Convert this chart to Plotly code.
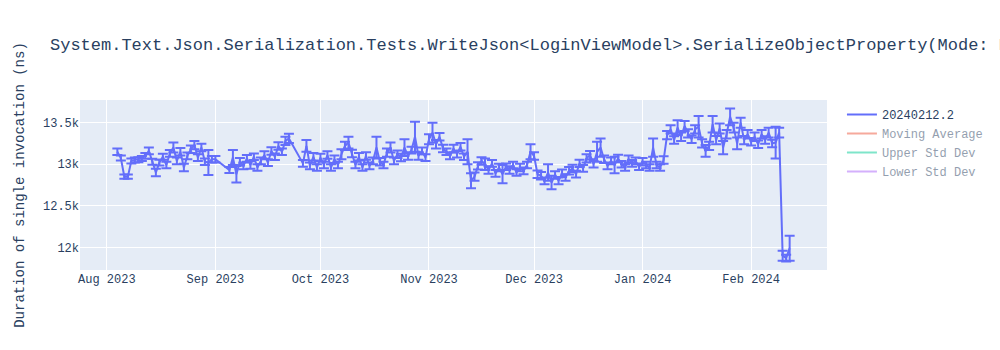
import plotly.graph_objects as go

dates = [
    "2023-08-04", "2023-08-05", "2023-08-06", "2023-08-07", "2023-08-08", "2023-08-09", "2023-08-10",
    "2023-08-11", "2023-08-12", "2023-08-13", "2023-08-14", "2023-08-15", "2023-08-16", "2023-08-17",
    "2023-08-18", "2023-08-19", "2023-08-20", "2023-08-21", "2023-08-22", "2023-08-23", "2023-08-24",
    "2023-08-25", "2023-08-26", "2023-08-27", "2023-08-28", "2023-08-29", "2023-08-30", "2023-08-31",
    "2023-09-01", "2023-09-05", "2023-09-06", "2023-09-07", "2023-09-08", "2023-09-09", "2023-09-10",
    "2023-09-11", "2023-09-12", "2023-09-13", "2023-09-14", "2023-09-15", "2023-09-16", "2023-09-17",
    "2023-09-18", "2023-09-19", "2023-09-20", "2023-09-21", "2023-09-22", "2023-09-26", "2023-09-27",
    "2023-09-28", "2023-09-29", "2023-09-30", "2023-10-01", "2023-10-02", "2023-10-03", "2023-10-04",
    "2023-10-05", "2023-10-06", "2023-10-07", "2023-10-08", "2023-10-09", "2023-10-10", "2023-10-11",
    "2023-10-12", "2023-10-13", "2023-10-14", "2023-10-15", "2023-10-16", "2023-10-17", "2023-10-18",
    "2023-10-19", "2023-10-20", "2023-10-21", "2023-10-22", "2023-10-23", "2023-10-24", "2023-10-25",
    "2023-10-26", "2023-10-27", "2023-10-28", "2023-10-29", "2023-10-30", "2023-10-31", "2023-11-01",
    "2023-11-02", "2023-11-03", "2023-11-04", "2023-11-05", "2023-11-06", "2023-11-07", "2023-11-08",
    "2023-11-09", "2023-11-10", "2023-11-11", "2023-11-12", "2023-11-13", "2023-11-14", "2023-11-15",
    "2023-11-16", "2023-11-17", "2023-11-18", "2023-11-19", "2023-11-20", "2023-11-21", "2023-11-22",
    "2023-11-23", "2023-11-24", "2023-11-25", "2023-11-26", "2023-11-27", "2023-11-28", "2023-11-29",
    "2023-11-30", "2023-12-01", "2023-12-02", "2023-12-03", "2023-12-04", "2023-12-05", "2023-12-06",
    "2023-12-07", "2023-12-08", "2023-12-09", "2023-12-10", "2023-12-11", "2023-12-12", "2023-12-13",
    "2023-12-14", "2023-12-15", "2023-12-16", "2023-12-17", "2023-12-18", "2023-12-19", "2023-12-20",
    "2023-12-21", "2023-12-22", "2023-12-23", "2023-12-24", "2023-12-25", "2023-12-26", "2023-12-27",
    "2023-12-28", "2023-12-29", "2023-12-30", "2023-12-31", "2024-01-01", "2024-01-02", "2024-01-03",
    "2024-01-04", "2024-01-05", "2024-01-06", "2024-01-07", "2024-01-08", "2024-01-09", "2024-01-10",
    "2024-01-11", "2024-01-12", "2024-01-13", "2024-01-14", "2024-01-15", "2024-01-16", "2024-01-17",
    "2024-01-18", "2024-01-19", "2024-01-20", "2024-01-21", "2024-01-22", "2024-01-23", "2024-01-24",
    "2024-01-25", "2024-01-26", "2024-01-27", "2024-01-28", "2024-01-29", "2024-01-30", "2024-01-31",
    "2024-02-01", "2024-02-02", "2024-02-03", "2024-02-04", "2024-02-05", "2024-02-06", "2024-02-07",
    "2024-02-08", "2024-02-09", "2024-02-10", "2024-02-11", "2024-02-12",
]

durations = [
    13150, 13075, 12850, 12850, 13040, 13050, 13055,
    13070, 13100, 13160, 13030, 12900, 13020, 13090,
    12990, 13130, 13200, 13040, 13150, 12960, 13100,
    13180, 13230, 13080, 13200, 13030, 13020, 13060,
    13060, 12930, 13080, 12880, 13030, 12980, 13070,
    12990, 13090, 12960, 13040, 13110, 13020, 13160,
    13090, 13220, 13150, 13280, 13310, 13010, 13220,
    12980, 13090, 12960, 13080, 12990, 13110, 12960,
    13060, 12990, 13120, 13220, 13260, 13130, 12990,
    13090, 12960, 13100, 12980, 13040, 13200, 13030,
    12990, 13140, 13200, 13040, 13120, 13080, 13200,
    13100, 13170, 13330, 13100, 13160, 13080, 13300,
    13380, 13240, 13330, 13190, 13150, 13100, 13190,
    13120, 13210, 13090, 13150, 12800, 12850, 12980,
    13040, 13000, 12930, 13010, 12890, 12960, 12880,
    12970, 12930, 12990, 12900, 12960, 12920, 12990,
    13150, 13100, 12880, 12860, 12800, 12900, 12780,
    12870, 12800, 12890, 12840, 12920, 12950, 12880,
    13010, 12950, 13070, 13110, 13000, 13150, 13200,
    13060, 12980, 13040, 12990, 13070, 13000, 12960,
    13060, 13010, 13040, 12970, 13030, 12990, 12960,
    13200, 12990, 12960, 13050, 13350, 13420, 13290,
    13440, 13330, 13460, 13370, 13300, 13420, 13450,
    13250, 13160, 13220, 13480, 13290, 13430, 13200,
    13360, 13570, 13440, 13250, 13500, 13290, 13360,
    13270, 13330, 13240, 13360, 13290, 13380, 13250,
    13260, 13380, 11900, 11870, 11990,
]

errors = [
    40, 30, 25, 25, 30, 30, 30,
    30, 35, 40, 35, 45, 35, 35,
    40, 40, 60, 40, 45, 45, 40,
    45, 50, 40, 45, 40, 150, 40,
    40, 35, 90, 100, 45, 40, 40,
    45, 40, 40, 40, 45, 40, 45,
    40, 45, 40, 50, 55, 40, 70,
    40, 45, 40, 45, 40, 45, 40,
    45, 40, 60, 50, 70, 45, 40,
    45, 40, 45, 40, 40, 130, 45,
    40, 50, 60, 40, 45, 45, 100,
    45, 40, 180, 45, 40, 40, 60,
    120, 50, 45, 45, 40, 40, 45,
    40, 45, 40, 150, 90, 50, 45,
    45, 70, 45, 40, 40, 45, 110,
    40, 45, 40, 40, 45, 40, 40,
    90, 45, 45, 45, 40, 100, 80,
    45, 40, 45, 40, 45, 45, 40,
    45, 40, 50, 50, 40, 120, 110,
    45, 40, 40, 100, 45, 40, 40,
    45, 40, 40, 40, 45, 40, 40,
    110, 40, 40, 45, 50, 50, 45,
    90, 50, 60, 50, 45, 50, 130,
    50, 70, 50, 100, 50, 60, 80,
    50, 100, 60, 70, 60, 50, 50,
    45, 50, 45, 50, 45, 60, 45,
    190, 60, 60, 40, 150,
]

trace_names = ["20240212.2", "Moving Average", "Upper Std Dev", "Lower Std Dev"]
title_text = ("System.Text.Json.Serialization.Tests.WriteJson&lt;LoginViewModel&gt;"
              ".SerializeObjectProperty(Mode: Reflection)")
y_title = "Duration of single invocation (ns)"

fig = go.Figure()
fig.add_trace(go.Scatter(
    x=dates, y=durations, mode="lines", name=trace_names[0],
    error_y=dict(type="data", array=errors, visible=True, width=5),
))
# Statistical overlays are hidden in the reference (legend only)
for nm in trace_names[1:]:
    fig.add_trace(go.Scatter(x=dates, y=durations, mode="lines", name=nm,
                             visible="legendonly"))

fig.update_layout(
    width=1000, height=350,
    template="plotly",
    font=dict(family="Courier New, Liberation Mono, monospace"),
    title=dict(text=title_text),
    yaxis=dict(title=dict(text=y_title)),
    showlegend=True,
)

fig.write_html("out.html")
